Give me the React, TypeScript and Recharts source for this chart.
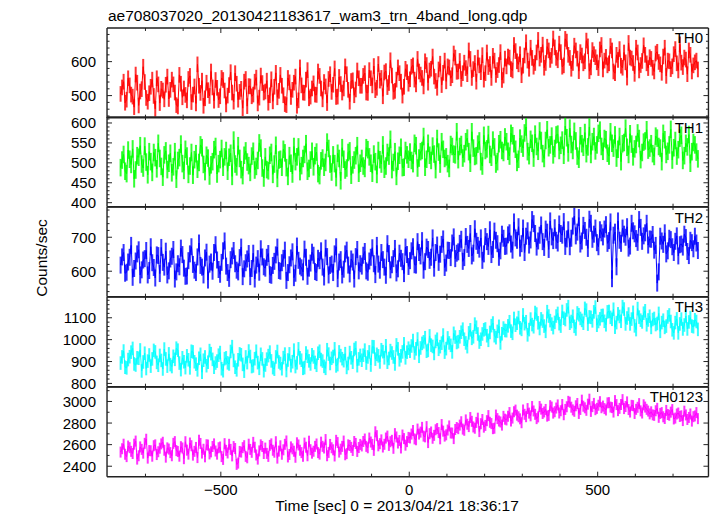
import React from "react";
import { LineChart, Line, XAxis, YAxis, ErrorBar } from "recharts";

// time bins (s), relative to 2013/04/21 18:36:17
// "A" arrays: bins at T_START + 8i, "B" arrays: bins halfway between
const T_START = -766;
const T_STEP = 8;

const th0RateA = [
  505, 541, 488, 530, 497, 562, 471, 519, 540, 482, 526, 499, 551, 478, 515, 532,
  490, 547, 509, 468, 535, 521, 486, 558, 503, 477, 529, 544, 492, 516, 571, 485,
  523, 498, 546, 474, 531, 509, 566, 488, 520, 541, 469, 527, 503, 553, 494, 537,
  512, 479, 548, 526, 495, 561, 501, 472, 539, 517, 556, 486, 530, 508, 575, 497,
  536, 502, 558, 489, 527, 549, 511, 580, 497, 534, 521, 563, 482, 545, 518, 551,
  529, 566, 508, 551, 587, 523, 544, 498, 572, 537, 559, 514, 583, 541, 526, 569,
  548, 589, 533, 571, 552, 601, 538, 579, 556, 523, 594, 567, 542, 583, 560, 612,
  571, 549, 597, 563, 608, 578, 541, 589, 619, 566, 584, 552, 603, 575, 628, 559,
  586, 612, 574, 631, 592, 560, 618, 603, 641, 585, 627, 609, 650, 596, 633, 617,
  642, 604, 628, 589, 659, 611, 596, 633, 572, 618, 601, 645, 583, 622, 598, 636,
  577, 614, 595, 633, 566, 605, 588, 627, 553, 612, 596, 641, 574, 602, 620, 581,
  608, 571, 629, 592, 615, 558, 601, 586, 637, 574, 597, 612, 563, 620, 589, 603,
];
const th0RateB = [
  524, 479, 551, 503, 466, 538, 512, 585, 493, 507, 547, 461, 533, 520, 489, 556,
  517, 533, 472, 561, 495, 502, 549, 481, 527, 592, 508, 470, 538, 499, 524, 546,
  487, 552, 515, 500, 569, 482, 535, 511, 463, 549, 528, 498, 541, 477, 559, 509,
  544, 501, 483, 567, 514, 529, 475, 552, 496, 538, 470, 583, 509, 547, 492, 521,
  503, 571, 521, 540, 478, 563, 532, 496, 555, 509, 586, 517, 543, 501, 574, 529,
  558, 509, 575, 530, 516, 593, 552, 568, 525, 604, 511, 547, 566, 500, 579, 535,
  585, 547, 608, 562, 527, 590, 574, 615, 543, 577, 531, 603, 586, 551, 624, 570,
  602, 566, 581, 633, 552, 596, 612, 569, 547, 627, 593, 617, 561, 590, 546, 609,
  615, 578, 649, 601, 622, 588, 657, 579, 611, 596, 664, 620, 582, 644, 605, 668,
  611, 653, 585, 667, 620, 579, 647, 609, 628, 595, 662, 572, 634, 613, 581, 649,
  603, 589, 646, 571, 620, 637, 582, 598, 655, 609, 564, 627, 590, 648, 595, 613,
  582, 624, 599, 567, 641, 603, 578, 622, 595, 651, 584, 606, 633, 571, 598, 577,
];

const th1RateA = [
  488, 521, 473, 509, 535, 482, 514, 497, 542, 470, 503, 526, 485, 511, 464, 530,
  499, 475, 528, 506, 547, 481, 517, 492, 469, 523, 501, 538, 478, 512, 495, 533,
  472, 508, 489, 531, 514, 466, 497, 543, 483, 519, 502, 476, 529, 491, 550, 487,
  515, 480, 526, 497, 461, 509, 534, 488, 518, 472, 503, 540, 493, 521, 479, 507,
  490, 527, 468, 512, 501, 536, 477, 498, 524, 455, 509, 487, 530, 495, 518, 474,
  511, 486, 533, 499, 522, 471, 508, 545, 492, 517, 483, 528, 504, 539, 489, 520,
  527, 498, 543, 512, 531, 489, 549, 506, 522, 561, 497, 534, 515, 486, 541, 520,
  508, 546, 523, 562, 499, 537, 518, 555, 492, 531, 571, 514, 540, 503, 558, 526,
  553, 517, 568, 534, 509, 547, 575, 528, 559, 512, 541, 580, 523, 556, 538, 567,
  536, 572, 544, 519, 563, 587, 531, 555, 509, 548, 576, 540, 521, 566, 545, 582,
  529, 558, 517, 549, 570, 534, 503, 551, 539, 573, 515, 546, 561, 526, 555, 532,
  548, 516, 562, 537, 574, 521, 545, 507, 556, 533, 569, 518, 540, 499, 551, 527,
];
const th1RateB = [
  507, 479, 532, 496, 460, 518, 543, 487, 502, 528, 476, 513, 549, 491, 520, 483,
  524, 490, 459, 513, 498, 534, 471, 526, 508, 484, 545, 496, 519, 467, 503, 541,
  498, 536, 515, 479, 524, 557, 490, 511, 468, 530, 493, 517, 482, 506, 537, 462,
  483, 519, 471, 544, 507, 489, 525, 466, 499, 541, 515, 478, 511, 548, 486, 529,
  518, 473, 505, 489, 552, 497, 520, 463, 511, 538, 482, 526, 469, 507, 543, 499,
  492, 538, 515, 474, 503, 531, 497, 484, 526, 559, 501, 466, 519, 488, 531, 509,
  506, 549, 487, 528, 566, 509, 519, 542, 483, 527, 553, 511, 498, 546, 522, 578,
  541, 512, 553, 528, 578, 516, 547, 503, 569, 535, 521, 557, 497, 548, 531, 565,
  529, 574, 548, 501, 562, 537, 590, 518, 549, 572, 529, 556, 511, 583, 545, 520,
  570, 531, 557, 592, 525, 546, 579, 517, 568, 539, 523, 590, 553, 530, 574, 541,
  561, 524, 578, 537, 512, 566, 548, 587, 521, 547, 535, 575, 508, 552, 583, 537,
  523, 567, 541, 503, 558, 529, 584, 538, 517, 562, 506, 549, 571, 528, 545, 510,
];

const th2RateA = [
  618, 655, 597, 641, 582, 630, 663, 604, 637, 589, 672, 611, 648, 593, 626, 659,
  601, 644, 577, 622, 668, 609, 586, 651, 620, 596, 683, 612, 639, 574, 627, 655,
  633, 591, 660, 615, 579, 645, 622, 598, 671, 607, 636, 584, 653, 618, 597, 642,
  609, 652, 588, 629, 671, 600, 638, 573, 619, 657, 594, 632, 610, 665, 585, 624,
  647, 596, 631, 612, 668, 589, 621, 651, 578, 634, 606, 662, 592, 627, 643, 601,
  615, 658, 597, 641, 622, 676, 603, 634, 588, 652, 619, 667, 607, 638, 593, 649,
  631, 672, 618, 655, 690, 628, 664, 641, 609, 677, 650, 695, 624, 661, 683, 637,
  657, 694, 640, 679, 711, 653, 688, 665, 632, 702, 673, 649, 718, 681, 660, 697,
  674, 713, 662, 698, 731, 681, 655, 719, 692, 740, 671, 706, 687, 724, 664, 701,
  728, 683, 711, 746, 695, 672, 733, 704, 758, 689, 720, 667, 741, 709, 684, 722,
  701, 737, 690, 578, 715, 748, 682, 709, 731, 674, 719, 696, 752, 688, 713, 677,
  694, 662, 565, 703, 679, 651, 697, 672, 688, 645, 680, 709, 658, 691, 666, 683,
];
const th2RateB = [
  642, 594, 627, 676, 608, 651, 589, 633, 661, 602, 625, 580, 646, 670, 612, 589,
  636, 664, 598, 613, 649, 585, 631, 672, 603, 642, 617, 589, 656, 621, 600, 678,
  605, 626, 689, 596, 634, 661, 603, 640, 584, 625, 652, 608, 577, 637, 666, 613,
  641, 590, 617, 648, 602, 625, 662, 596, 639, 581, 674, 615, 598, 641, 609, 656,
  599, 638, 660, 583, 643, 617, 596, 672, 627, 589, 651, 618, 636, 577, 664, 622,
  647, 601, 630, 669, 590, 621, 655, 612, 681, 604, 637, 595, 653, 628, 671, 614,
  660, 619, 687, 645, 603, 671, 632, 698, 655, 626, 679, 611, 662, 640, 701, 653,
  682, 629, 702, 667, 645, 725, 676, 698, 651, 687, 722, 664, 691, 641, 709, 673,
  707, 680, 745, 691, 668, 727, 703, 677, 752, 711, 689, 736, 670, 715, 748, 690,
  691, 739, 706, 673, 722, 697, 762, 715, 680, 735, 700, 753, 694, 727, 672, 713,
  724, 682, 745, 706, 613, 691, 727, 700, 668, 741, 710, 685, 729, 704, 741, 695,
  708, 676, 598, 689, 713, 660, 693, 655, 704, 678, 671, 699, 646, 684, 703, 661,
];

const th3RateA = [
  893, 948, 871, 922, 960, 884, 915, 857, 938, 902, 879, 951, 896, 928, 866, 912,
  935, 877, 910, 952, 863, 899, 926, 871, 944, 888, 915, 851, 921, 897, 936, 874,
  902, 941, 858, 917, 889, 968, 874, 908, 931, 856, 895, 923, 880, 947, 869, 912,
  884, 927, 903, 865, 946, 891, 918, 859, 935, 899, 877, 958, 906, 872, 924, 889,
  921, 883, 947, 902, 869, 934, 915, 958, 886, 927, 904, 873, 941, 897, 962, 912,
  906, 952, 921, 884, 967, 933, 898, 945, 972, 914, 939, 889, 958, 926, 981, 943,
  947, 996, 958, 924, 983, 1009, 951, 975, 937, 1002, 968, 1021, 959, 985, 944, 1012,
  991, 1034, 1002, 968, 1045, 1013, 1057, 989, 1026, 1049, 997, 1064, 1018, 1038, 985, 1053,
  1041, 1082, 1029, 1066, 1101, 1047, 1073, 1022, 1094, 1059, 1117, 1051, 1085, 1038, 1108, 1071,
  1079, 1120, 1062, 1098, 1136, 1075, 1107, 1049, 1114, 1088, 1143, 1071, 1102, 1127, 1066, 1095,
  1111, 1068, 1129, 1093, 1057, 1118, 1084, 1140, 1099, 1072, 1125, 1046, 1103, 1081, 1132, 1090,
  1056, 1097, 1074, 1038, 1089, 1062, 1113, 1045, 1078, 1031, 1094, 1067, 1049, 1101, 1059, 1083,
];
const th3RateB = [
  921, 874, 909, 943, 889, 917, 953, 898, 868, 930, 912, 944, 883, 905, 957, 879,
  886, 924, 961, 893, 917, 872, 908, 947, 899, 862, 933, 906, 881, 950, 910, 893,
  929, 867, 913, 894, 946, 905, 862, 935, 887, 921, 948, 877, 913, 895, 933, 858,
  911, 943, 872, 921, 898, 867, 934, 907, 881, 952, 894, 917, 869, 939, 903, 931,
  896, 938, 909, 878, 954, 891, 923, 880, 944, 913, 936, 891, 917, 955, 881, 928,
  929, 893, 944, 968, 911, 926, 954, 917, 897, 950, 921, 976, 908, 944, 917, 961,
  971, 939, 1003, 962, 990, 947, 1017, 969, 992, 956, 984, 943, 1008, 974, 1029, 987,
  1013, 1048, 985, 1031, 1006, 1071, 1026, 1002, 1045, 1018, 1033, 1076, 1009, 1061, 1027, 1042,
  1063, 1039, 1097, 1075, 1054, 1113, 1082, 1046, 1069, 1124, 1077, 1095, 1062, 1128, 1087, 1055,
  1108, 1073, 1129, 1092, 1151, 1083, 1061, 1122, 1097, 1075, 1135, 1104, 1086, 1149, 1083, 1110,
  1084, 1127, 1102, 1139, 1078, 1106, 1151, 1072, 1117, 1094, 1063, 1142, 1089, 1121, 1068, 1107,
  1092, 1069, 1120, 1078, 1056, 1104, 1083, 1031, 1095, 1072, 1049, 1108, 1081, 1062, 1091, 1047,
];

const th0123RateA = [
  2531, 2604, 2489, 2572, 2518, 2633, 2497, 2556, 2612, 2475, 2543, 2590, 2508, 2567, 2622, 2484,
  2559, 2497, 2628, 2536, 2581, 2470, 2549, 2615, 2503, 2574, 2641, 2522, 2487, 2596, 2533, 2607,
  2512, 2578, 2463, 2547, 2603, 2496, 2564, 2429, 2531, 2590, 2478, 2556, 2621, 2504, 2542, 2583,
  2568, 2491, 2607, 2530, 2475, 2589, 2552, 2634, 2509, 2561, 2483, 2597, 2526, 2614, 2497, 2553,
  2539, 2606, 2512, 2584, 2647, 2528, 2571, 2495, 2619, 2558, 2633, 2517, 2592, 2546, 2611, 2573,
  2588, 2652, 2571, 2624, 2547, 2683, 2609, 2578, 2661, 2593, 2640, 2702, 2615, 2569, 2656, 2628,
  2662, 2731, 2645, 2698, 2760, 2672, 2619, 2717, 2686, 2749, 2654, 2725, 2691, 2773, 2707, 2740,
  2748, 2812, 2733, 2789, 2851, 2764, 2806, 2721, 2833, 2778, 2869, 2795, 2752, 2841, 2810, 2862,
  2829, 2897, 2846, 2920, 2858, 2803, 2881, 2934, 2867, 2912, 2841, 2953, 2889, 2926, 2871, 2948,
  2905, 2968, 2914, 2877, 2951, 2993, 2922, 2960, 2889, 3012, 2941, 2975, 2908, 2982, 2936, 2998,
  2957, 2921, 2989, 2943, 3008, 2915, 2972, 2934, 2996, 2902, 2961, 2927, 2980, 2893, 2948, 2911,
  2904, 2871, 2936, 2889, 2858, 2917, 2872, 2925, 2846, 2893, 2867, 2910, 2833, 2884, 2859, 2897,
];
const th0123RateB = [
  2562, 2511, 2587, 2538, 2604, 2466, 2579, 2521, 2650, 2545, 2493, 2598, 2534, 2607, 2548, 2570,
  2526, 2612, 2545, 2493, 2569, 2627, 2512, 2590, 2538, 2480, 2611, 2557, 2599, 2514, 2583, 2541,
  2571, 2489, 2609, 2523, 2556, 2582, 2417, 2537, 2572, 2491, 2604, 2529, 2576, 2466, 2598, 2518,
  2519, 2593, 2548, 2627, 2540, 2511, 2603, 2486, 2579, 2539, 2617, 2548, 2492, 2576, 2632, 2521,
  2584, 2526, 2623, 2569, 2497, 2602, 2552, 2640, 2531, 2584, 2506, 2598, 2575, 2629, 2537, 2602,
  2629, 2584, 2661, 2602, 2719, 2589, 2644, 2603, 2679, 2627, 2566, 2671, 2638, 2689, 2595, 2667,
  2698, 2653, 2744, 2716, 2679, 2767, 2702, 2659, 2738, 2712, 2786, 2679, 2735, 2708, 2656, 2759,
  2781, 2744, 2829, 2767, 2816, 2752, 2845, 2794, 2762, 2822, 2807, 2748, 2874, 2819, 2781, 2836,
  2863, 2818, 2905, 2873, 2839, 2921, 2859, 2892, 2953, 2881, 2857, 2929, 2903, 2864, 2961, 2892,
  2939, 2893, 2972, 2926, 3001, 2947, 2909, 2981, 2926, 2956, 2918, 3021, 2952, 2924, 2965, 2942,
  2934, 2987, 2948, 2902, 2971, 2936, 3017, 2953, 2925, 2964, 2889, 2946, 2913, 2969, 2927, 2885,
  2876, 2914, 2853, 2897, 2842, 2879, 2901, 2838, 2884, 2861, 2823, 2875, 2852, 2818, 2866, 2841,
];

// 1-sigma errors per band (counts/sec)
const th0Err = 23;
const th1Err = 22;
const th2Err = 25;
const th3Err = 31;
const th0123Err = 51;

const xTicks = [-700, -600, -500, -400, -300, -200, -100, 0, 100, 200, 300, 400, 500, 600, 700];
const xLabels = [-500, 0, 500];

const th0Labels = [500, 600];
const th1Labels = [400, 450, 500, 550, 600];
const th2Labels = [600, 700];
const th3Labels = [800, 900, 1000, 1100];
const th0123Labels = [2400, 2600, 2800, 3000];

const steps = (lo: number, hi: number, d: number) => {
  const out: number[] = [];
  for (let v = lo; v <= hi; v += d) out.push(v);
  return out;
};

const W = 717;
const LEFT = 107;
const RIGHT = 708.5;
const TOP0 = 27.7;
const PANEL_H = 89.7;
const AX_H = 10;
const X_DOMAIN: [number, number] = [-802, 794];
const FRAME = "#222";
const FONT = "'Liberation Sans', Arial, Helvetica, sans-serif";

const panels = [
  { name: "TH0", a: th0RateA, b: th0RateB, err: th0Err, color: "#ff0000", domain: [435, 699], ticks: steps(440, 680, 20), labels: th0Labels },
  { name: "TH1", a: th1RateA, b: th1RateB, err: th1Err, color: "#00ff00", domain: [390, 615], ticks: steps(390, 610, 10), labels: th1Labels },
  { name: "TH2", a: th2RateA, b: th2RateB, err: th2Err, color: "#0000ff", domain: [525, 789], ticks: steps(540, 780, 20), labels: th2Labels },
  { name: "TH3", a: th3RateA, b: th3RateB, err: th3Err, color: "#00ffff", domain: [785, 1195], ticks: steps(800, 1180, 20), labels: th3Labels },
  { name: "TH0123", a: th0123RateA, b: th0123RateB, err: th0123Err, color: "#ff00ff", domain: [2303, 3134], ticks: steps(2400, 3100, 100), labels: th0123Labels },
];

const fmt = (v: number) => (v < 0 ? "\u2212" + Math.abs(v) : String(v));

function XTick(props: any) {
  const { x, payload, y0, dir, showLabel } = props;
  const v = payload.value;
  const major = xLabels.includes(v);
  const len = major ? 5 : 3;
  return (
    <g>
      <line x1={x} x2={x} y1={y0} y2={y0 + dir * len} stroke={FRAME} strokeWidth={1} />
      {showLabel && major && (
        <text x={x} y={y0 + 13} textAnchor="middle" dominantBaseline="central" fontSize={15} fontFamily={FONT} fill="#000">
          {fmt(v)}
        </text>
      )}
    </g>
  );
}

function YTick(props: any) {
  const { y, payload, x0, dir, labels } = props;
  const v = payload.value;
  const major = labels.includes(v);
  const len = major ? 5 : 2.5;
  return (
    <g>
      <line x1={x0} x2={x0 + dir * len} y1={y} y2={y} stroke={FRAME} strokeWidth={1} />
      {dir > 0 && major && (
        <text x={96} y={y} textAnchor="end" dominantBaseline="central" fontSize={15} fontFamily={FONT} fill="#000">
          {v}
        </text>
      )}
    </g>
  );
}

function Panel({ p, idx }: { p: (typeof panels)[number]; idx: number }) {
  const last = idx === panels.length - 1;
  const bottomH = last ? 28 : AX_H;
  const top = TOP0 + idx * PANEL_H - AX_H;
  const plotTop = AX_H;
  const plotBottom = AX_H + PANEL_H;
  const data = [
    ...p.a.map((v, i) => ({ t: T_START + i * T_STEP, v, err: p.err })),
    ...p.b.map((v, i) => ({ t: T_START + T_STEP / 2 + i * T_STEP, v, err: p.err })),
  ].sort((m, n) => m.t - n.t);
  const axisLine = { stroke: FRAME, strokeWidth: 1.4 };
  return (
    <div style={{ position: "absolute", left: 0, top }}>
      <LineChart width={W} height={AX_H + PANEL_H + bottomH} data={data} margin={{ top: 0, right: 0, bottom: 0, left: LEFT - 60 }}>
        <XAxis
          xAxisId="b"
          dataKey="t"
          type="number"
          domain={X_DOMAIN}
          allowDataOverflow
          ticks={xTicks}
          interval={0}
          height={bottomH}
          axisLine={axisLine}
          tickLine={false}
          tick={(tp: any) => <XTick {...tp} y0={plotBottom} dir={-1} showLabel={last} />}
        />
        <XAxis
          xAxisId="t"
          orientation="top"
          dataKey="t"
          type="number"
          domain={X_DOMAIN}
          allowDataOverflow
          ticks={xTicks}
          interval={0}
          height={AX_H}
          axisLine={axisLine}
          tickLine={false}
          tick={(tp: any) => <XTick {...tp} y0={plotTop} dir={1} showLabel={false} />}
        />
        <YAxis
          yAxisId="l"
          type="number"
          domain={p.domain}
          allowDataOverflow
          ticks={p.ticks}
          interval={0}
          width={60}
          axisLine={axisLine}
          tickLine={false}
          tick={(tp: any) => <YTick {...tp} x0={LEFT} dir={1} labels={p.labels} />}
        />
        <YAxis
          yAxisId="r"
          orientation="right"
          type="number"
          domain={p.domain}
          allowDataOverflow
          ticks={p.ticks}
          interval={0}
          width={W - RIGHT}
          axisLine={axisLine}
          tickLine={false}
          tick={(tp: any) => <YTick {...tp} x0={RIGHT} dir={-1} labels={p.labels} />}
        />
        <Line
          xAxisId="b"
          yAxisId="l"
          type="linear"
          dataKey="v"
          stroke={p.color}
          strokeWidth={1}
          dot={false}
          isAnimationActive={false}
        >
          <ErrorBar dataKey="err" direction="y" width={0} stroke={p.color} strokeOpacity={0.8} strokeWidth={2} isAnimationActive={false} />
        </Line>
      </LineChart>
    </div>
  );
}

export default function App() {
  return (
    <div style={{ position: "absolute", left: 0, top: 0, width: W, height: 516, background: "#fff" }}>
      {panels.map((p, i) => (
        <Panel key={p.name} p={p} idx={i} />
      ))}
      <svg width={W} height={516} style={{ position: "absolute", left: 0, top: 0, pointerEvents: "none" }}>
        <g fontFamily={FONT} fill="#000">
          <text x={108} y={21} fontSize={15.5}>
            ae708037020_20130421183617_wam3_trn_4band_long.qdp
          </text>
          <text x={397} y={511} fontSize={15.5} textAnchor="middle">
            Time [sec] 0 = 2013/04/21 18:36:17
          </text>
          <text x={41} y={258} fontSize={15.5} textAnchor="middle" dominantBaseline="central" transform="rotate(-90 41 258)">
            Counts/sec
          </text>
          {panels.map((p, i) => (
            <text key={p.name} x={703} y={TOP0 + i * PANEL_H + 15.5} fontSize={15} textAnchor="end">
              {p.name}
            </text>
          ))}
        </g>
      </svg>
    </div>
  );
}
